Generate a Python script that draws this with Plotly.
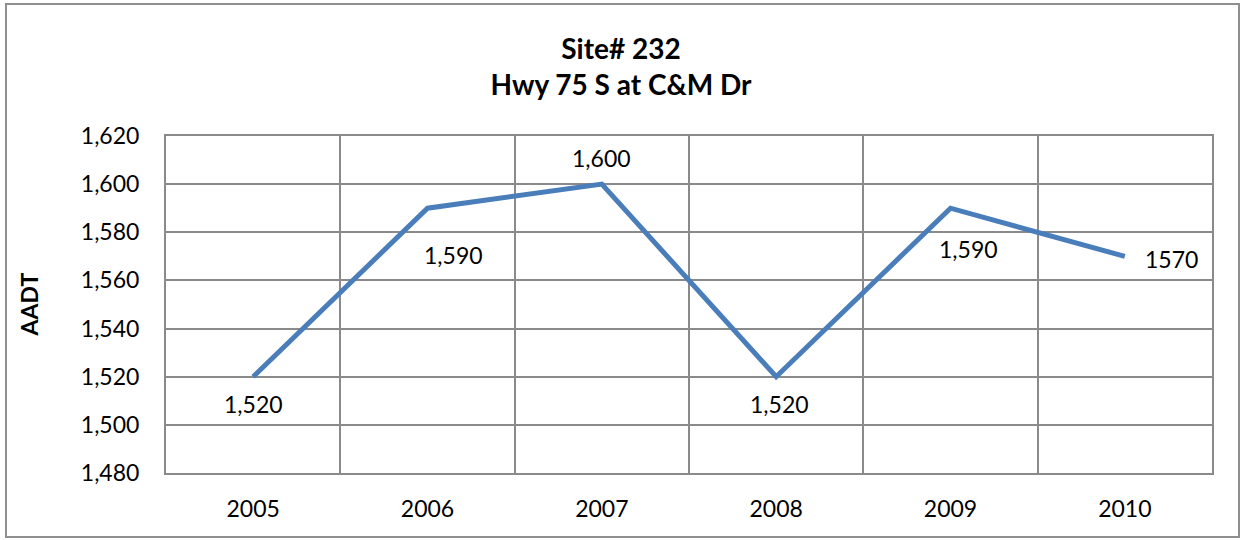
import plotly.graph_objects as go

# AADT counts by year for the site
years = ["2005", "2006", "2007", "2008", "2009", "2010"]
aadt = [1520, 1590, 1600, 1520, 1590, 1570]
# the last point is labelled without a thousands separator
label_text = [f"{v:,}" for v in aadt[:-1]] + [str(aadt[-1])]

y_ticks = [1480, 1500, 1520, 1540, 1560, 1580, 1600, 1620]

FONT = "Lato, Calibri, sans-serif"
GRID = "#8a8a8a"
LINE_BLUE = "#4a7ebb"

idx = list(range(len(years)))

fig = go.Figure()
fig.add_trace(go.Scatter(
    x=idx, y=aadt, mode="lines",
    line=dict(color=LINE_BLUE, width=5),
    customdata=years, hovertemplate="%{customdata}: %{y:,}<extra></extra>",
    showlegend=False,
))

# data labels: offsets in pixels relative to each point
offsets = [(0, -27), (26, -47), (0, 26), (3, -27), (18, -41), (47, -3)]
for i, v, txt, (dx, dy) in zip(idx, aadt, label_text, offsets):
    fig.add_annotation(
        x=i, y=v, text=txt, showarrow=False,
        xshift=dx, yshift=dy,
        font=dict(family=FONT, size=23, color="black"),
    )

# y-axis title
fig.add_annotation(
    xref="paper", yref="paper", x=-0.131, y=0.5, text="<b>AADT</b>",
    textangle=-90, showarrow=False, xanchor="center", yanchor="middle",
    font=dict(family=FONT, size=23, color="black"),
)

# chart-area frame
L, R, T, B = 166, 1212, 136, 473
W, H = R - L, B - T
fig.add_shape(
    type="rect", xref="paper", yref="paper",
    x0=(6 - L) / W, x1=(1239 - L) / W,
    y0=(B - 537) / H, y1=(B - 4) / H,
    line=dict(color="#8f8f8f", width=2), fillcolor="rgba(0,0,0,0)",
    layer="below",
)

# vertical gridlines sit on the boundaries between years
minor_x = [i + 0.5 for i in idx[:-1]]

fig.update_layout(
    width=1242, height=540,
    margin=dict(l=L, r=1242 - R, t=T, b=540 - B),
    paper_bgcolor="white", plot_bgcolor="white",
    font=dict(family=FONT, size=23, color="black"),
    title=dict(
        text="<b>Site# 232<br>Hwy 75 S at C&M Dr</b>",
        x=0.5, xref="container", xanchor="center",
        y=1 - 59 / 540, yref="container", yanchor="middle",
        font=dict(family=FONT, size=28, color="black"),
    ),
    xaxis=dict(
        range=[-0.5, len(years) - 0.5], tickvals=idx, ticktext=years,
        showgrid=False, automargin=False,
        minor=dict(tickvals=minor_x, showgrid=True, gridcolor=GRID,
                   gridwidth=2, ticks=""),
        showline=True, linecolor=GRID, linewidth=2, mirror=True,
        zeroline=False, ticks="", ticklabelstandoff=14,
        tickfont=dict(family=FONT, size=23, color="black"),
    ),
    yaxis=dict(
        range=[1480, 1620], tickvals=y_ticks,
        ticktext=[f"{t:,}" for t in y_ticks],
        showgrid=True, gridcolor=GRID, gridwidth=2, automargin=False,
        showline=True, linecolor=GRID, linewidth=2, mirror=True,
        zeroline=False, ticks="", ticklabelstandoff=20,
        tickfont=dict(family=FONT, size=23, color="black"),
    ),
)

fig.write_html("out.html")
